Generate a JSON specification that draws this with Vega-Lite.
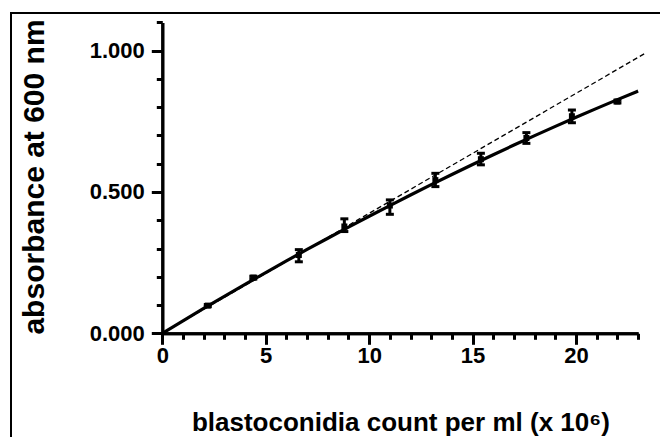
{
  "$schema": "https://vega.github.io/schema/vega-lite/v6.json",
  "autosize": "none",
  "width": 655,
  "height": 430,
  "padding": {"left": 11, "top": 13, "right": 0, "bottom": 0},
  "background": "white",
  "config": {
    "view": {"stroke": "#000000", "strokeWidth": 2},
    "font": "Liberation Sans",
    "axis": {
      "tickColor": "#000000",
      "tickWidth": 3,
      "domainColor": "#000000",
      "domainWidth": 3,
      "grid": false,
      "labelFont": "Liberation Sans",
      "labelFontSize": 22,
      "labelFontWeight": "bold",
      "labelColor": "#000000",
      "labelFlush": false,
      "labelOverlap": false,
      "titleFont": "Liberation Sans",
      "titleFontWeight": "bold",
      "titleColor": "#000000"
    }
  },
  "resolve": {"axis": {"x": "independent", "y": "independent"}},
  "datasets": {
    "points": [
      {"count": 2.2, "abs": 0.098, "lo": 0.094, "hi": 0.102},
      {"count": 4.4, "abs": 0.197, "lo": 0.192, "hi": 0.202},
      {"count": 6.6, "abs": 0.277, "lo": 0.253, "hi": 0.296},
      {"count": 8.8, "abs": 0.378, "lo": 0.360, "hi": 0.405},
      {"count": 11.0, "abs": 0.452, "lo": 0.421, "hi": 0.472},
      {"count": 13.2, "abs": 0.542, "lo": 0.519, "hi": 0.566},
      {"count": 15.4, "abs": 0.616, "lo": 0.596, "hi": 0.637},
      {"count": 17.6, "abs": 0.691, "lo": 0.672, "hi": 0.710},
      {"count": 19.8, "abs": 0.768, "lo": 0.745, "hi": 0.790},
      {"count": 22.0, "abs": 0.820, "lo": 0.815, "hi": 0.825}
    ],
    "curve": [
      {"count": 0, "abs": 0.0},
      {"count": 1, "abs": 0.0443},
      {"count": 2, "abs": 0.0879},
      {"count": 3, "abs": 0.1309},
      {"count": 4, "abs": 0.1733},
      {"count": 5, "abs": 0.2150},
      {"count": 6, "abs": 0.2561},
      {"count": 7, "abs": 0.2966},
      {"count": 8, "abs": 0.3364},
      {"count": 9, "abs": 0.3756},
      {"count": 10, "abs": 0.4141},
      {"count": 11, "abs": 0.4520},
      {"count": 12, "abs": 0.4893},
      {"count": 13, "abs": 0.5259},
      {"count": 14, "abs": 0.5619},
      {"count": 15, "abs": 0.5972},
      {"count": 16, "abs": 0.6319},
      {"count": 17, "abs": 0.6660},
      {"count": 18, "abs": 0.6994},
      {"count": 19, "abs": 0.7322},
      {"count": 20, "abs": 0.7644},
      {"count": 21, "abs": 0.7959},
      {"count": 22, "abs": 0.8268},
      {"count": 23, "abs": 0.8571}
    ],
    "dashed": [
      {"count": 0, "abs": 0.0},
      {"count": 23.3, "abs": 0.989}
    ]
  },
  "layer": [
    {
      "data": {"name": "dashed"},
      "mark": {"type": "line", "color": "#000000", "strokeWidth": 1.3, "strokeDash": [5, 3]},
      "encoding": {
        "x": {
          "field": "count", "type": "quantitative",
          "scale": {"domain": [0, 23], "range": [151.3, 627.1], "nice": false, "zero": false},
          "axis": {
            "orient": "bottom",
            "offset": -109.7,
            "values": [0, 5, 10, 15, 20],
            "tickSize": 11,
            "labelPadding": 1,
            "title": "blastoconidia count per ml (x 10⁶)",
            "titleFontSize": 26,
            "titleAlign": "center",
            "titleBaseline": "alphabetic",
            "titleX": 389.4,
            "titleY": 96.7
          }
        },
        "y": {
          "field": "abs", "type": "quantitative",
          "scale": {"domain": [0, 1.1], "range": [320.3, 9.4], "nice": false, "zero": false},
          "axis": {
            "orient": "left",
            "offset": -151.3,
            "values": [0, 0.5, 1.0],
            "format": ".3f",
            "tickSize": 11,
            "labelPadding": 7,
            "title": "absorbance at 600 nm",
            "titleFontSize": 30,
            "titleAngle": 270,
            "titleAlign": "center",
            "titleBaseline": "alphabetic",
            "titleX": -119.3,
            "titleY": 163.5
          }
        }
      }
    },
    {
      "data": {"name": "curve"},
      "mark": {"type": "line", "color": "#000000", "strokeWidth": 3.2, "interpolate": "monotone"},
      "encoding": {
        "x": {
          "field": "count", "type": "quantitative",
          "axis": {
            "orient": "bottom",
            "offset": -109.7,
            "values": [1,2,3,4,6,7,8,9,11,12,13,14,16,17,18,19,21,22,23],
            "tickSize": 6,
            "labels": false,
            "title": null
          }
        },
        "y": {
          "field": "abs", "type": "quantitative",
          "axis": {
            "orient": "left",
            "offset": -151.3,
            "values": [0.1,0.2,0.3,0.4,0.6,0.7,0.8,0.9,1.1],
            "tickSize": 6,
            "labels": false,
            "title": null
          }
        }
      }
    },
    {
      "data": {"name": "points"},
      "mark": {"type": "rule", "color": "#000000", "strokeWidth": 3},
      "encoding": {
        "x": {"field": "count", "type": "quantitative", "axis": null},
        "y": {"field": "lo", "type": "quantitative", "axis": null},
        "y2": {"field": "hi"}
      }
    },
    {
      "data": {"name": "points"},
      "mark": {"type": "tick", "orient": "horizontal", "color": "#000000", "size": 8, "thickness": 3, "opacity": 1},
      "encoding": {
        "x": {"field": "count", "type": "quantitative", "axis": null},
        "y": {"field": "lo", "type": "quantitative", "axis": null}
      }
    },
    {
      "data": {"name": "points"},
      "mark": {"type": "tick", "orient": "horizontal", "color": "#000000", "size": 8, "thickness": 3, "opacity": 1},
      "encoding": {
        "x": {"field": "count", "type": "quantitative", "axis": null},
        "y": {"field": "hi", "type": "quantitative", "axis": null}
      }
    },
    {
      "data": {"name": "points"},
      "mark": {"type": "point", "shape": "square", "filled": true, "color": "#000000", "size": 36, "opacity": 1},
      "encoding": {
        "x": {"field": "count", "type": "quantitative", "axis": null},
        "y": {"field": "abs", "type": "quantitative", "axis": null}
      }
    }
  ]
}
